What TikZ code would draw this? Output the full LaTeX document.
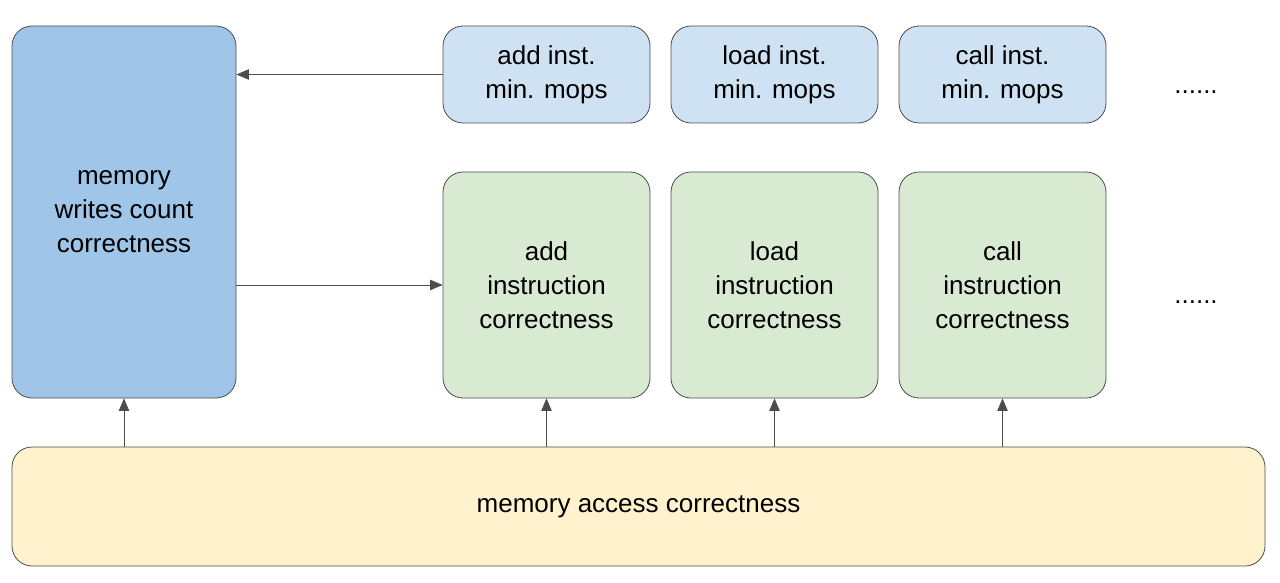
\documentclass[tikz,border=0pt]{standalone}
\usepackage{fontspec}
\setmainfont{Liberation Sans}
\usetikzlibrary{arrows}
\tikzset{
  box/.style={draw=black!70, rounded corners=10pt, align=center, font=\fontsize{13}{17}\selectfont, inner sep=0pt},
  memw/.style={box, fill=blue!35!cyan!25!white, minimum width=112pt, minimum height=186pt},
  mops/.style={box, fill=blue!15!cyan!10!white, minimum width=103.5pt, minimum height=48.5pt},
  inst/.style={box, fill=green!15!white!95!black, minimum width=103.5pt, minimum height=113pt},
  conn/.style={->, draw=black!70, thin}
}
\begin{document}
\begin{tikzpicture}[line cap=round,line join=round,>=triangle 45,x=0.5pt,y=-0.5pt]
\useasboundingbox (0,0) rectangle (1280,583);
\node[memw, fill={rgb,255:red,159;green,197;blue,232}] (memw) at (124,212) {memory\\writes count\\correctness};
\node[mops, fill={rgb,255:red,207;green,226;blue,243}] (addm) at (546.5,74.5) {add inst.\\min. mops};
\node[mops, fill={rgb,255:red,207;green,226;blue,243}] (loadm) at (774.5,74.5) {load inst.\\min. mops};
\node[mops, fill={rgb,255:red,207;green,226;blue,243}] (callm) at (1002.5,74.5) {call inst.\\min. mops};
\node[inst, fill={rgb,255:red,217;green,234;blue,211}] (addi) at (546.5,285) {add\\instruction\\correctness};
\node[inst, fill={rgb,255:red,217;green,234;blue,211}] (loadi) at (774.5,285) {load\\instruction\\correctness};
\node[inst, fill={rgb,255:red,217;green,234;blue,211}] (calli) at (1002.5,285) {call\\instruction\\correctness};
\node[box, fill={rgb,255:red,255;green,242;blue,204}, minimum width=626.5pt, minimum height=59.5pt] (acc) at (638.5,506.5) {memory access correctness};
\node[font=\fontsize{13}{17}\selectfont] (dots1) at (1196,92) {......};
\node[font=\fontsize{13}{17}\selectfont] (dots2) at (1196,302) {......};
% connectors
\draw[conn] (addm.west) -- (memw.east |- addm.west);
\draw[conn] (memw.east |- addi.center) -- (addi.west);
\draw[conn] (acc.north -| memw.south) -- (memw.south);
\draw[conn] (acc.north -| addi.south) -- (addi.south);
\draw[conn] (acc.north -| loadi.south) -- (loadi.south);
\draw[conn] (acc.north -| calli.south) -- (calli.south);
\end{tikzpicture}
\end{document}
